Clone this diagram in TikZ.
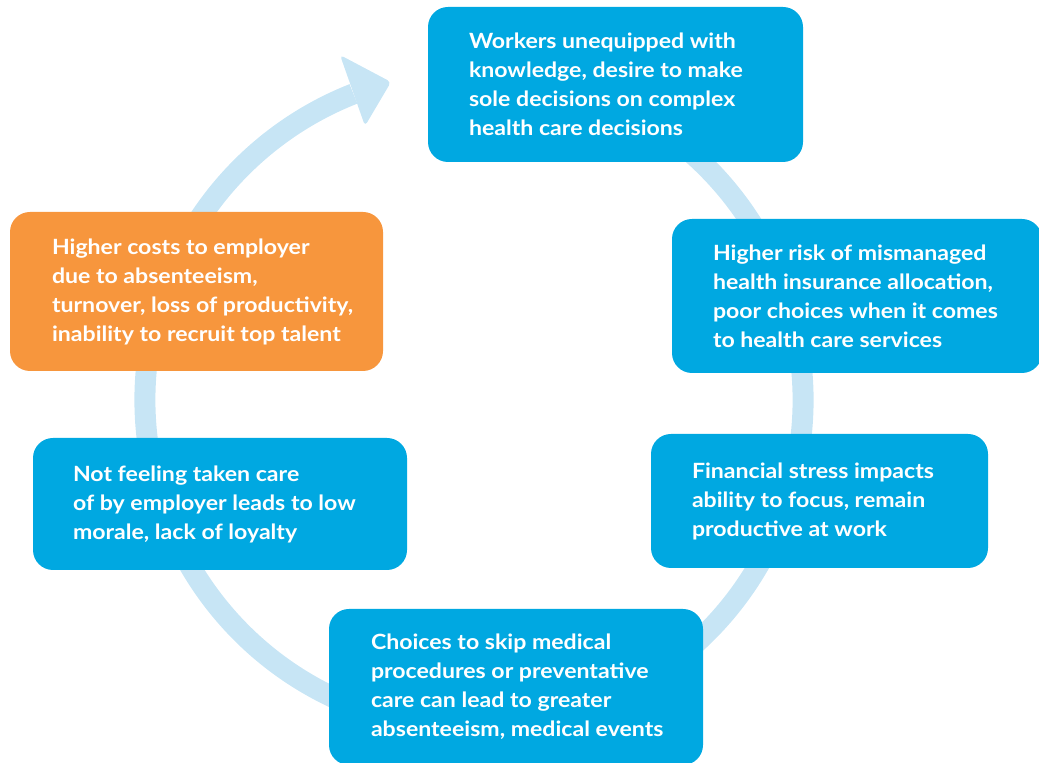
\documentclass[tikz,border=0pt]{standalone}
\usepackage{fontspec}
\setmainfont{Lato}[FakeStretch=1.1]
\definecolor{cblue}{RGB}{0,168,225}
\definecolor{corange}{RGB}{247,150,61}
\definecolor{cring}{RGB}{199,229,245}
\begin{document}
\begin{tikzpicture}[x=0.75pt,y=0.75pt,
  box/.style={draw=none, fill=cblue, rounded corners=15pt, inner sep=0pt},
  obox/.style={box, fill=corange},
  label/.style={anchor=west, align=left, inner sep=0pt, text=white,
    font=\fontsize{15.75}{21.75}\selectfont\bfseries},
  ring/.style={draw=cring, line width=15.75pt}]
\useasboundingbox (0,0) rectangle (1039,763);
\coordinate (C) at (474,363);
% ring
\draw[ring] (C) ++(70:329) arc[start angle=70, end angle=-248.5, radius=329];
\fill[cring, rounded corners=3pt] (340,708) -- (391,681) -- (365,637) -- cycle;
% boxes
\node[box, minimum width=375*0.75pt, minimum height=155*0.75pt] (b1) at (615.5,678.5) {};
\node[box, minimum width=370*0.75pt, minimum height=154*0.75pt] (b2) at (857,467) {};
\node[box, minimum width=337*0.75pt, minimum height=134*0.75pt] (b3) at (819.5,262) {};
\node[box, minimum width=374*0.75pt, minimum height=156*0.75pt] (b4) at (516,76) {};
\node[box, minimum width=374*0.75pt, minimum height=132*0.75pt] (b5) at (220,259) {};
\node[obox, minimum width=373*0.75pt, minimum height=159*0.75pt] (b6) at (196.5,471.5) {};
% texts
\node[label] (t1) at ([xshift=30.75pt]b1.west) {Workers unequipped with\\knowledge, desire to make\\sole decisions on complex\\health care decisions};
\node[label] (t2) at ([xshift=30.75pt]b2.west) {Higher risk of mismanaged\\health insurance allocation,\\poor choices when it comes\\to health care services};
\node[label] (t3) at ([xshift=30.75pt]b3.west) {Financial stress impacts\\ability to focus, remain\\productive at work};
\node[label] (t4) at ([xshift=31.5pt]b4.west) {Choices to skip medical\\procedures or preventative\\care can lead to greater\\absenteeism, medical events};
\node[label] (t5) at ([xshift=30pt]b5.west) {Not feeling taken care\\of by employer leads to low\\morale, lack of loyalty};
\node[label] (t6) at ([xshift=31.5pt]b6.west) {Higher costs to employer\\due to absenteeism,\\turnover, loss of productivity,\\inability to recruit top talent};
\end{tikzpicture}
\end{document}
